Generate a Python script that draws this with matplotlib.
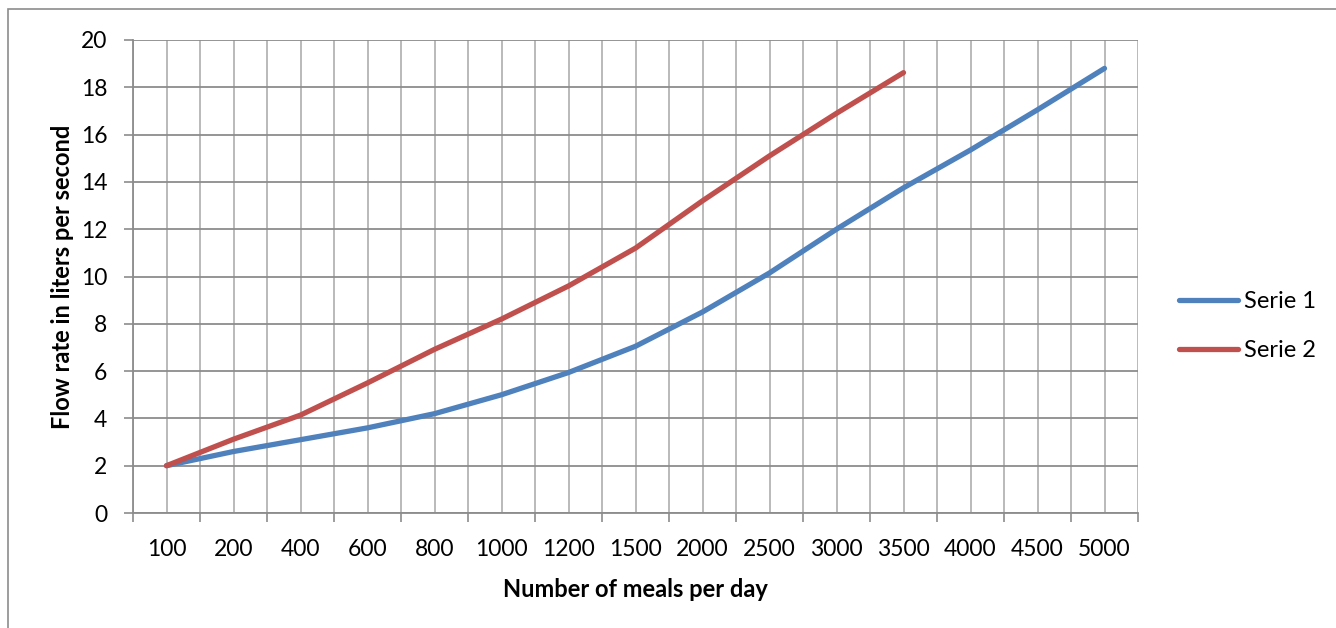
import matplotlib.pyplot as plt
from matplotlib.patches import Rectangle
import numpy as np

# Data
meals = ['100', '200', '400', '600', '800', '1000', '1200', '1500',
         '2000', '2500', '3000', '3500', '4000', '4500', '5000']
serie1 = [2.0, 2.6, 3.1, 3.6, 4.2, 5.0, 5.94, 7.05, 8.5, 10.15, 12.0, 13.75, 15.35, 17.05, 18.8]
serie2 = [2.0, 3.12, 4.14, 5.5, 6.92, 8.2, 9.6, 11.2, 13.2, 15.1, 16.9, 18.62]

blue = '#4F81BD'
red = '#C0504D'

plt.rcParams['font.family'] = ['Lato', 'DejaVu Sans']

fig = plt.figure(figsize=(13.36, 6.28), dpi=100)
W, H = 1336, 628
ax = fig.add_axes([133 / W, 1 - 513 / H, (1138 - 133) / W, (513 - 40) / H])

# outer chart border
fig.patches.append(Rectangle((8 / W, -0.01), 1.2, 1 - 9 / H + 0.01, transform=fig.transFigure,
                             fill=False, edgecolor='#8c8c8c', linewidth=1.2))

x1 = np.arange(len(serie1))
x2 = np.arange(len(serie2))
ax.plot(x1, serie1, color=blue, lw=3.8, solid_capstyle='round', solid_joinstyle='round',
        label='Serie 1', zorder=3)
ax.plot(x2, serie2, color=red, lw=3.8, solid_capstyle='round', solid_joinstyle='round',
        label='Serie 2', zorder=3)

ax.set_xlim(-0.5, len(meals) - 0.5)
ax.set_ylim(0, 20)
ax.set_yticks(range(0, 21, 2))

# category labels at centres, tick marks at boundaries
ax.set_xticks(np.arange(len(meals)))
ax.set_xticklabels(meals)
ax.set_xticks(np.arange(-0.5, len(meals)), minor=True)
ax.tick_params(axis='x', which='major', length=0, pad=19, labelsize=16.5)
ax.tick_params(axis='x', which='minor', length=6.5, width=1.2, color='#8c8c8c', direction='out')
ax.tick_params(axis='y', length=6.5, width=1.2, color='#8c8c8c', direction='out', labelsize=16.5, pad=12)

ax.grid(axis='y', which='major', color='#8c8c8c', lw=1.3)
ax.grid(axis='x', which='both', color='#b4b4b4', lw=1.3)
ax.set_axisbelow(True)

for s in ['top', 'right']:
    ax.spines[s].set_visible(False)
for s in ['left', 'bottom']:
    ax.spines[s].set_color('#8c8c8c')
    ax.spines[s].set_linewidth(1.3)

ax.set_xlabel('Number of meals per day', fontsize=17, fontweight='bold', labelpad=13)
ax.set_ylabel('Flow rate in liters per second', fontsize=17, fontweight='bold', labelpad=5)

ax.legend(loc='center left', bbox_to_anchor=(1.02, 0.395), frameon=False, fontsize=17,
          handlelength=2.5, handletextpad=0.25, labelspacing=1.2)

plt.savefig('out.png', dpi=100)
plt.close()
